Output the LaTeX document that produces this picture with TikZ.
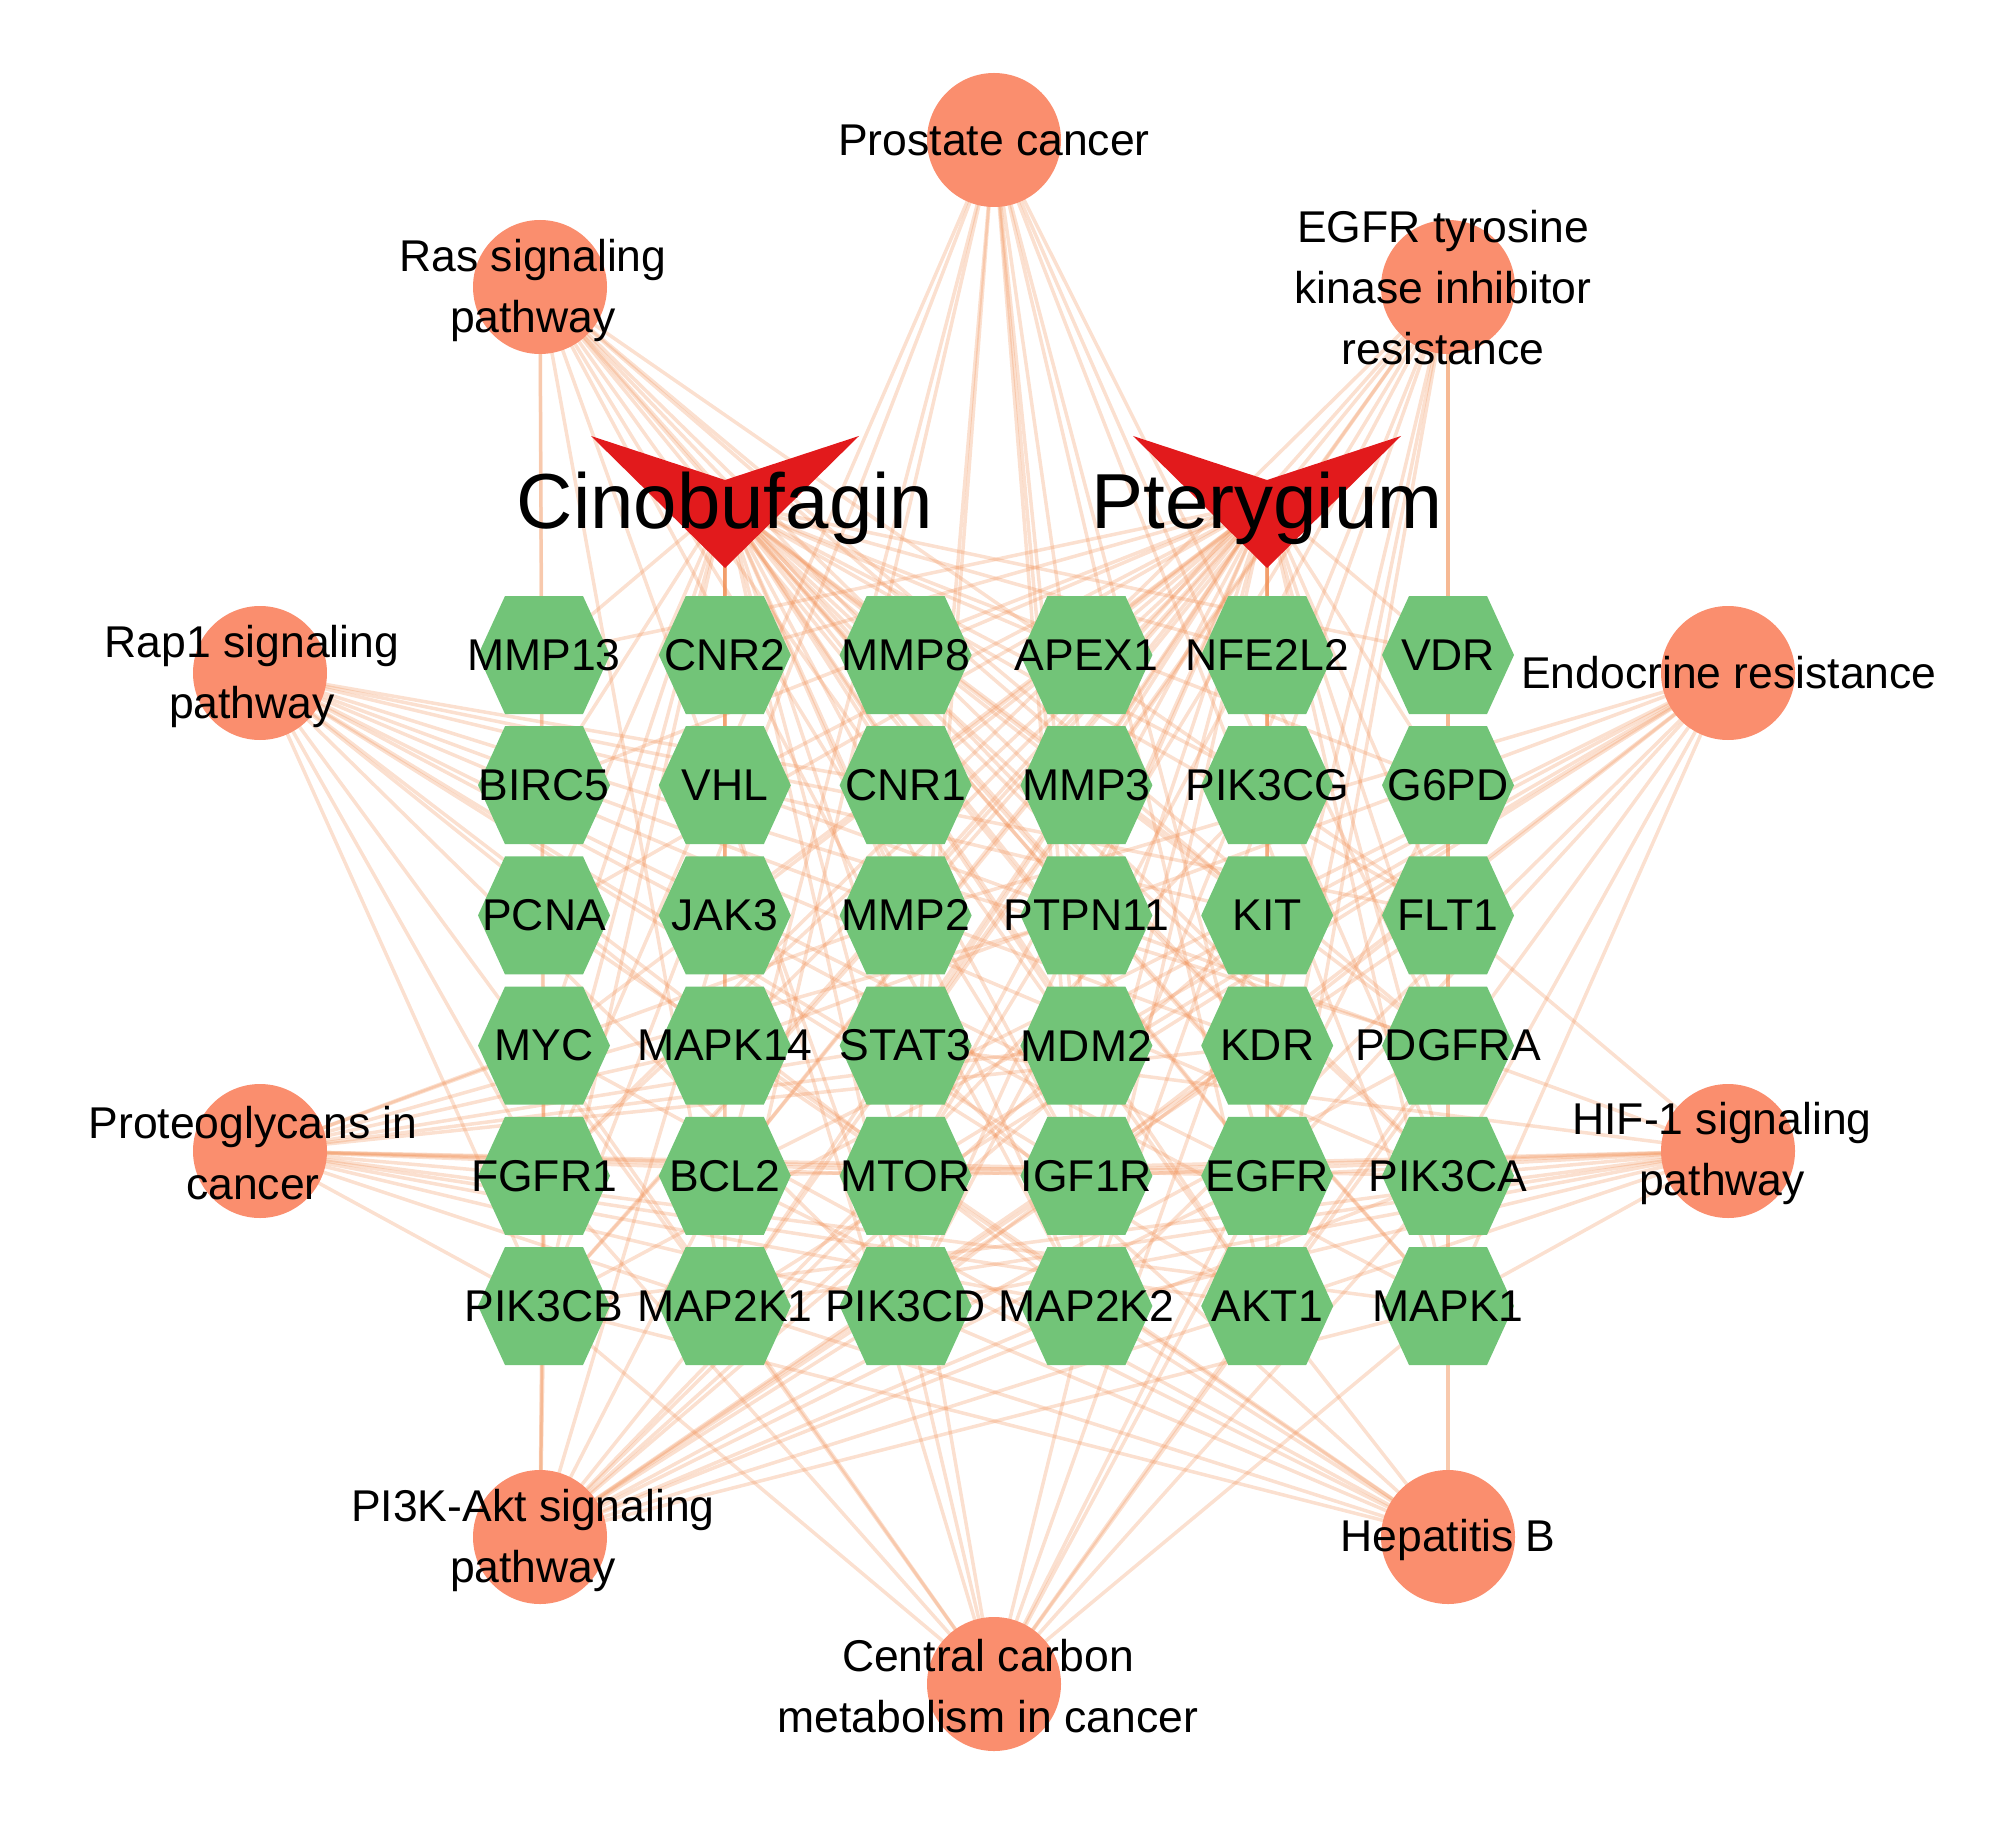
\documentclass[tikz,border=0pt]{standalone}
\usepackage{fontspec}
\setmainfont{Liberation Sans}
\pgfdeclarelayer{bg}
\pgfsetlayers{bg,main}
\definecolor{edgec}{RGB}{240,140,80}
\definecolor{pathc}{RGB}{250,142,110}
\definecolor{genec}{RGB}{114,196,120}
\definecolor{vred}{RGB}{226,26,28}
\begin{document}
\begin{tikzpicture}[x=0.5pt,y=-0.5pt,
  edge/.style={draw=edgec, draw opacity=0.27, line width=1.75pt},
  pathnode/.style={circle, fill=pathc, minimum size=67pt, inner sep=0pt},
  genenode/.style={inner sep=0pt, minimum size=0pt},
  hexfill/.style={fill=genec},
  lbl/.style={font=\fontsize{22.25}{30.5}\selectfont, align=center, text=black, inner sep=0pt},
  biglbl/.style={font=\fontsize{39}{45}\selectfont, text=black, inner sep=0pt, anchor=base},
  vshape/.style={fill=vred}]
\useasboundingbox (0,0) rectangle (2000,1834);

% genes
\foreach \n [count=\i from 0] in {MMP13,CNR2,MMP8,APEX1,NFE2L2,VDR,
  BIRC5,VHL,CNR1,MMP3,PIK3CG,G6PD,
  PCNA,JAK3,MMP2,PTPN11,KIT,FLT1,
  MYC,MAPK14,STAT3,MDM2,KDR,PDGFRA,
  FGFR1,BCL2,MTOR,IGF1R,EGFR,PIK3CA,
  PIK3CB,MAP2K1,PIK3CD,MAP2K2,AKT1,MAPK1} {
  \pgfmathsetmacro\cx{544+180.8*mod(\i,6)}
  \pgfmathsetmacro\cy{655+130.2*div(\i,6)}
  \node[genenode] (\n) at (\cx,\cy) {};
  \fill[hexfill] (\n.center) ++(-66,0) -- ++(27,-59) -- ++(78,0) -- ++(27,59)
     -- ++(-27,59) -- ++(-78,0) -- cycle;
  \node[lbl] (\n-t) at (\n) {\n};
}

% pathways
\node[pathnode] (pros) at (994,140) {};
\node[pathnode] (egfr) at (1448,287) {};
\node[pathnode] (endo) at (1728,673) {};
\node[pathnode] (hif) at (1728,1151) {};
\node[pathnode] (hepb) at (1448,1537) {};
\node[pathnode] (ccm) at (994,1684) {};
\node[pathnode] (pi3k) at (540,1537) {};
\node[pathnode] (prot) at (260,1151) {};
\node[pathnode] (rap1) at (260,673) {};
\node[pathnode] (ras) at (540,287) {};

\node[lbl] (pros-t) at (994,140) {Prostate cancer};
\node[lbl] (egfr-t) at (1443,288) {EGFR tyrosine\\kinase inhibitor\\resistance};
\node[lbl] (endo-t) at (1729,673) {Endocrine resistance};
\node[lbl] (hif-t) at (1722,1153) {HIF-1 signaling\\pathway};
\node[lbl] (hepb-t) at (1448,1540) {Hepatitis B};
\node[lbl] (ccm-t) at (988,1686) {Central carbon\\metabolism in cancer};
\node[lbl] (pi3k-t) at (533,1540) {PI3K-Akt signaling\\pathway};
\node[lbl] (prot-t) at (253,1153) {Proteoglycans in\\cancer};
\node[lbl] (rap1-t) at (252,676) {Rap1 signaling\\pathway};
\node[lbl] (ras-t) at (533,290) {Ras signaling\\pathway};

% drug and disease
\coordinate (cino) at (725,502);
\coordinate (pter) at (1267,502);
\fill[vshape] (cino) ++(-134,-66) -- ++(134,44) -- ++(134,-44) -- ++(-134,132) -- cycle;
\fill[vshape] (pter) ++(-134,-66) -- ++(134,44) -- ++(134,-44) -- ++(-134,132) -- cycle;
\node[biglbl] (cino-t) at (725,528) {Cinobufagin};
\node[biglbl] (pter-t) at (1267,528) {Pterygium};

\begin{pgfonlayer}{bg}
\foreach \g in {MMP13,CNR2,MMP8,APEX1,NFE2L2,VDR,
  BIRC5,VHL,CNR1,MMP3,PIK3CG,G6PD,
  PCNA,JAK3,MMP2,PTPN11,KIT,FLT1,
  MYC,MAPK14,STAT3,MDM2,KDR,PDGFRA,
  FGFR1,BCL2,MTOR,IGF1R,EGFR,PIK3CA,
  PIK3CB,MAP2K1,PIK3CD,MAP2K2,AKT1,MAPK1} {
  \draw[edge] (cino) -- (\g.center);
  \draw[edge] (pter) -- (\g.center);
}
\foreach \g in {PIK3CA,PIK3CB,PIK3CD,AKT1,MTOR,MAPK1,MAP2K1,MAP2K2,EGFR,IGF1R,PDGFRA,FGFR1,MDM2,BCL2,MMP3}
  {\draw[edge] (pros.center) -- (\g.center);}
\foreach \g in {PIK3CA,PIK3CB,PIK3CD,AKT1,MAPK1,MAP2K1,MAP2K2,EGFR,IGF1R,KDR,KIT,FLT1,PDGFRA,FGFR1,PTPN11}
  {\draw[edge] (ras.center) -- (\g.center);}
\foreach \g in {PIK3CA,PIK3CB,PIK3CD,AKT1,MTOR,MAPK1,MAP2K1,MAP2K2,EGFR,IGF1R,KDR,PDGFRA,FGFR1,BCL2,STAT3}
  {\draw[edge] (egfr.center) -- (\g.center);}
\foreach \g in {PIK3CA,PIK3CB,PIK3CD,AKT1,MTOR,MAPK1,MAP2K1,MAP2K2,EGFR,IGF1R,MAPK14,BCL2,MDM2,MMP2}
  {\draw[edge] (endo.center) -- (\g.center);}
\foreach \g in {PIK3CA,PIK3CB,PIK3CD,AKT1,MTOR,MAPK1,MAP2K1,MAP2K2,EGFR,IGF1R,FLT1,STAT3,BCL2,VHL}
  {\draw[edge] (hif.center) -- (\g.center);}
\foreach \g in {PIK3CA,PIK3CB,PIK3CD,AKT1,MAPK1,MAP2K1,MAP2K2,STAT3,MYC,BCL2,PCNA,MAPK14}
  {\draw[edge] (hepb.center) -- (\g.center);}
\foreach \g in {PIK3CA,PIK3CB,PIK3CD,AKT1,MTOR,MAPK1,MAP2K1,MAP2K2,EGFR,KIT,PDGFRA,FGFR1,G6PD,MYC,VHL}
  {\draw[edge] (ccm.center) -- (\g.center);}
\foreach \g in {PIK3CA,PIK3CB,PIK3CD,PIK3CG,AKT1,MTOR,MAPK1,MAP2K1,MAP2K2,EGFR,IGF1R,KDR,KIT,FLT1,PDGFRA,FGFR1,MYC,BCL2,MDM2,JAK3}
  {\draw[edge] (pi3k.center) -- (\g.center);}
\foreach \g in {PIK3CA,PIK3CB,PIK3CD,AKT1,MTOR,MAPK1,MAP2K1,MAP2K2,EGFR,IGF1R,KDR,MYC,STAT3,MDM2,MAPK14,FGFR1,MMP2,PTPN11}
  {\draw[edge] (prot.center) -- (\g.center);}
\foreach \g in {PIK3CA,PIK3CB,PIK3CD,AKT1,MAPK1,MAP2K1,MAP2K2,EGFR,IGF1R,KDR,KIT,FLT1,PDGFRA,FGFR1,MAPK14,CNR1}
  {\draw[edge] (rap1.center) -- (\g.center);}
\end{pgfonlayer}
\end{tikzpicture}
\end{document}
